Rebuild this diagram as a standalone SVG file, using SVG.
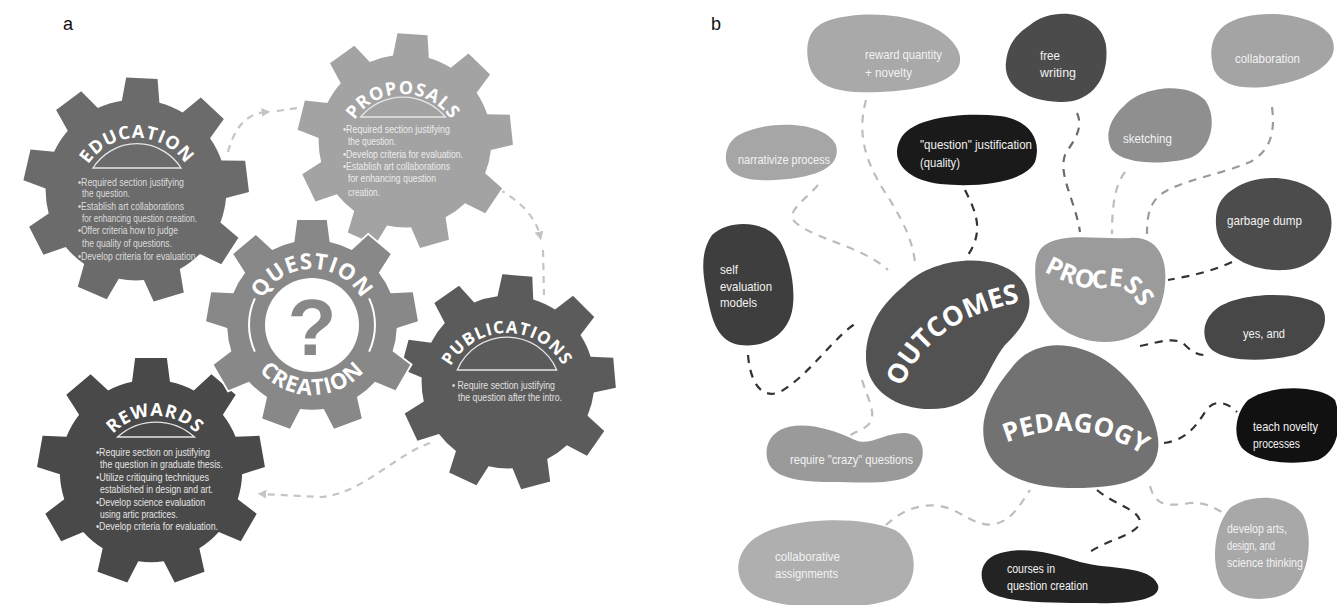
<svg xmlns="http://www.w3.org/2000/svg" width="1337" height="605" viewBox="0 0 1337 605">
<style>
.gear{stroke:#fff;stroke-width:3.5;paint-order:stroke}
.ttl{font-family:"Open Sans","DejaVu Sans",sans-serif;font-weight:700;fill:#fff;letter-spacing:1px}
.dome{fill:none;stroke:#e6e6e6;stroke-width:1.3}
.bul{font-family:"Liberation Sans",Arial,sans-serif;font-size:10px}
.lbl{font-family:"Liberation Sans",Arial,sans-serif;font-size:13px;fill:#f2f2f2}
.big{font-family:"Open Sans","DejaVu Sans",sans-serif;font-weight:700;fill:#fff}
.pl{font-family:"Liberation Sans",Arial,sans-serif;font-size:18px;fill:#111}
.ca{fill:none;stroke:#c4c4c4;stroke-width:2.2;stroke-dasharray:7 6}
.cb{fill:none;stroke-width:2.2;stroke-dasharray:8 7}
.lt{stroke:#bdbdbd}.md{stroke:#6a6a6a}.dk{stroke:#333}
</style>
<defs>
<path id="gearShape" d="M -16.63 -78.25 L -13.92 -99.03 L 13.92 -99.03 L 16.63 -78.25 A 80 80 0 0 1 37.56 -70.64 L 52.99 -84.81 L 74.31 -66.91 L 63.04 -49.25 A 80 80 0 0 1 74.17 -29.97 L 95.11 -30.90 L 99.94 -3.49 L 79.95 2.79 A 80 80 0 0 1 76.08 24.72 L 92.72 37.46 L 78.80 61.57 L 59.45 53.53 A 80 80 0 0 1 42.39 67.84 L 46.95 88.30 L 20.79 97.82 L 11.13 79.22 A 80 80 0 0 1 -11.13 79.22 L -20.79 97.82 L -46.95 88.30 L -42.39 67.84 A 80 80 0 0 1 -59.45 53.53 L -78.80 61.57 L -92.72 37.46 L -76.08 24.72 A 80 80 0 0 1 -79.95 2.79 L -99.94 -3.49 L -95.11 -30.90 L -74.17 -29.97 A 80 80 0 0 1 -63.04 -49.25 L -74.31 -66.91 L -52.99 -84.81 L -37.56 -70.64 A 80 80 0 0 1 -16.63 -78.25 Z"/>
<marker id="arr" viewBox="0 0 10 10" refX="5" refY="5" markerWidth="4" markerHeight="4" orient="auto" markerUnits="strokeWidth">
<path d="M0 0 L10 5 L0 10 Z" fill="#c4c4c4"/>
</marker>
<path id="pEdu" d="M 79 196 A 58 58 0 0 1 195 196"/>
<path id="pPro" d="M 345 152 A 58 58 0 0 1 461 152"/>
<path id="pPub" d="M 443 397 A 64 64 0 0 1 571 397"/>
<path id="pRew" d="M 97 474 A 58 58 0 0 1 213 474"/>
<path id="pQue" d="M 256 325 A 56 56 0 0 1 368 325"/>
<path id="pCre" d="M 242 325 A 70 70 0 0 0 382 325"/>
<path id="pOut" d="M 900 394 Q 925 318 1027 301"/>
<path id="pProc" d="M 1041 270 C 1065 283, 1090 293, 1108 287 C 1124 282, 1140 300, 1152 332"/>
<path id="pPed" d="M 994 448 Q 1078 408 1154 462"/>
</defs>

<rect width="1337" height="605" fill="#fff"/>
<text class="pl" x="63" y="30">a</text>
<text class="pl" x="711" y="30">b</text>

<g id="connectors-a">
<path class="ca" d="M 228 152 Q 238 114 266 112" marker-end="url(#arr)"/>
<path class="ca" d="M 277 111 L 298 108"/>
<path class="ca" d="M 487 183 Q 533 205 540 236" marker-end="url(#arr)"/>
<path class="ca" d="M 543 250 L 544 295"/>
<path class="ca" d="M 430 443 C 395 455, 360 495, 320 497 L 262 494" marker-end="url(#arr)"/>
</g>

<g id="gear-education">
<use href="#gearShape" class="gear" fill="#6b6b6b" transform="translate(136 190) rotate(3) scale(1.13)"/>
<text class="ttl" font-size="18"><textPath href="#pEdu" startOffset="50%" text-anchor="middle">EDUCATION</textPath></text>
<path class="dome" d="M 93 168 A 52 52 0 0 1 181 168 Z"/>
<g class="bul" fill="#dcdcdc">
<text x="78" y="186" textLength="106" lengthAdjust="spacingAndGlyphs">•Required section justifying</text>
<text x="82" y="197" textLength="48" lengthAdjust="spacingAndGlyphs">the question.</text>
<text x="78" y="210" textLength="106" lengthAdjust="spacingAndGlyphs">•Establish art collaborations</text>
<text x="82" y="222" textLength="115" lengthAdjust="spacingAndGlyphs">for enhancing question creation.</text>
<text x="78" y="234" textLength="100" lengthAdjust="spacingAndGlyphs">•Offer criteria how to judge</text>
<text x="82" y="247" textLength="90" lengthAdjust="spacingAndGlyphs">the quality of questions.</text>
<text x="78" y="260" textLength="120" lengthAdjust="spacingAndGlyphs">•Develop criteria for evaluation.</text>
</g>
</g>

<g id="gear-proposals">
<use href="#gearShape" class="gear" fill="#a3a3a3" transform="translate(405 141) rotate(4) scale(1.08)"/>
<text class="ttl" font-size="18"><textPath href="#pPro" startOffset="50%" text-anchor="middle">PROPOSALS</textPath></text>
<path class="dome" d="M 360.6 117 A 55 55 0 0 1 445.4 117 Z"/>
<g class="bul" fill="#ececec">
<text x="343" y="133" textLength="107" lengthAdjust="spacingAndGlyphs">•Required section justifying</text>
<text x="348" y="145" textLength="48" lengthAdjust="spacingAndGlyphs">the question.</text>
<text x="343" y="158" textLength="120" lengthAdjust="spacingAndGlyphs">•Develop criteria for evaluation.</text>
<text x="343" y="170" textLength="107" lengthAdjust="spacingAndGlyphs">•Establish art collaborations</text>
<text x="348" y="182" textLength="88" lengthAdjust="spacingAndGlyphs">for enhancing question</text>
<text x="348" y="196" textLength="32" lengthAdjust="spacingAndGlyphs">creation.</text>
</g>
</g>

<g id="gear-rewards">
<use href="#gearShape" class="gear" fill="#494949" transform="translate(151 471) scale(1.14)"/>
<text class="ttl" font-size="18"><textPath href="#pRew" startOffset="50%" text-anchor="middle">REWARDS</textPath></text>
<path class="dome" d="M 117.5 437 A 57 57 0 0 1 194.5 437 Z"/>
<g class="bul" fill="#e4e4e4">
<text x="96" y="456" textLength="114" lengthAdjust="spacingAndGlyphs">•Require section on justifying</text>
<text x="100" y="468" textLength="123" lengthAdjust="spacingAndGlyphs">the question in graduate thesis.</text>
<text x="96" y="481" textLength="113" lengthAdjust="spacingAndGlyphs">•Utilize critiquing techniques</text>
<text x="100" y="493" textLength="113" lengthAdjust="spacingAndGlyphs">established in design and art.</text>
<text x="96" y="506" textLength="109" lengthAdjust="spacingAndGlyphs">•Develop science evaluation</text>
<text x="100" y="518" textLength="78" lengthAdjust="spacingAndGlyphs">using artic practices.</text>
<text x="96" y="530" textLength="122" lengthAdjust="spacingAndGlyphs">•Develop criteria for evaluation.</text>
</g>
</g>

<g id="gear-publications">
<use href="#gearShape" class="gear" fill="#5b5b5b" transform="translate(508 382) rotate(5) scale(1.08)"/>
<text class="ttl" font-size="17"><textPath href="#pPub" startOffset="50%" text-anchor="middle">PUBLICATIONS</textPath></text>
<path class="dome" d="M 457.3 370 A 54 54 0 0 1 556.7 370 Z"/>
<g class="bul" fill="#e0e0e0">
<text x="452" y="389" textLength="103" lengthAdjust="spacingAndGlyphs">• Require section justifying</text>
<text x="458" y="401" textLength="104" lengthAdjust="spacingAndGlyphs">the question after the intro.</text>
</g>
</g>

<g id="gear-question-creation">
<use href="#gearShape" class="gear" fill="#888888" transform="translate(312 325) scale(1.06)"/>
<circle cx="312" cy="325" r="47" fill="#fff"/>
<text x="312" y="355" text-anchor="middle" font-family="Liberation Sans, Arial, sans-serif" font-weight="700" font-size="80" fill="#888888">?</text>
<path d="M 254.9 351.6 A 63 63 0 0 1 254.9 298.4 M 369.1 298.4 A 63 63 0 0 1 369.1 351.6" fill="none" stroke="#fff" stroke-width="2"/>
<text class="ttl" font-size="22"><textPath href="#pQue" startOffset="50%" text-anchor="middle">QUESTION</textPath></text>
<text class="ttl" font-size="22"><textPath href="#pCre" startOffset="50%" text-anchor="middle">CREATION</textPath></text>
</g>

<g id="connectors-b">
<path class="cb lt" d="M 866 100 C 855 140, 870 170, 890 200 C 905 225, 912 240, 915 262"/>
<path class="cb lt" d="M 818 185 C 805 200, 785 212, 795 222 C 815 240, 860 245, 888 270"/>
<path class="cb dk" d="M 965 190 C 975 210, 985 230, 968 255"/>
<path class="cb dk" d="M 748 355 C 750 380, 760 400, 780 392 C 810 375, 835 335, 858 322"/>
<path class="cb lt" d="M 862 380 C 868 400, 878 415, 868 425 C 860 432, 852 432, 848 438"/>
<path class="cb md" d="M 1077 113 C 1085 130, 1070 145, 1065 155 C 1058 175, 1075 200, 1080 232"/>
<path class="cb lt" d="M 1125 172 C 1115 185, 1112 205, 1112 234"/>
<path class="cb" stroke="#9a9a9a" d="M 1272 107 C 1275 130, 1272 150, 1250 162 C 1220 175, 1180 180, 1160 195 C 1148 205, 1147 220, 1147 234"/>
<path class="cb dk" d="M 1232 262 C 1210 272, 1190 276, 1168 280"/>
<path class="cb dk" d="M 1140 346 C 1160 342, 1175 336, 1185 345 C 1193 353, 1200 356, 1210 355"/>
<path class="cb dk" d="M 1164 443 C 1185 440, 1195 428, 1205 412 C 1212 400, 1225 400, 1237 412"/>
<path class="cb dk" d="M 1097 490 C 1115 505, 1140 510, 1140 522 C 1138 535, 1105 540, 1087 554"/>
<path class="cb lt" d="M 1150 486 C 1155 505, 1165 507, 1190 503 C 1205 502, 1212 507, 1222 512"/>
<path class="cb lt" d="M 886 525 C 900 512, 918 503, 940 506 C 962 510, 975 528, 995 524 C 1012 520, 1020 505, 1030 490"/>
</g>

<g id="reward-quantity">
<path fill="#a9a9a9" d="M 830 20 C 870 8, 940 15, 958 50 C 970 78, 930 90, 880 92 C 840 94, 812 88, 808 60 C 805 38, 812 26, 830 20 Z"/>
<text class="lbl" x="865" y="59" textLength="77" lengthAdjust="spacingAndGlyphs">reward quantity</text>
<text class="lbl" x="865" y="77" textLength="47" lengthAdjust="spacingAndGlyphs">+ novelty</text>
</g>
<g id="narrativize-process">
<path fill="#a6a6a6" d="M 745 132 C 775 120, 825 122, 836 145 C 842 168, 815 178, 775 180 C 745 182, 724 175, 726 155 C 727 143, 735 136, 745 132 Z"/>
<text class="lbl" x="738" y="164" textLength="92" lengthAdjust="spacingAndGlyphs">narrativize process</text>
</g>
<g id="question-justification">
<path fill="#1a1a1a" d="M 900 140 C 910 118, 960 112, 1000 116 C 1030 120, 1042 140, 1035 162 C 1025 182, 980 188, 940 184 C 905 180, 890 160, 900 140 Z"/>
<text class="lbl" x="920" y="149" textLength="112" lengthAdjust="spacingAndGlyphs">"question" justification</text>
<text class="lbl" x="920" y="167" textLength="40" lengthAdjust="spacingAndGlyphs">(quality)</text>
</g>
<g id="free-writing">
<path fill="#4b4b4b" d="M 1030 25 C 1055 5, 1100 12, 1106 45 C 1110 80, 1090 103, 1060 102 C 1025 101, 1003 85, 1006 62 C 1008 45, 1015 35, 1030 25 Z"/>
<text class="lbl" x="1040" y="60" textLength="20" lengthAdjust="spacingAndGlyphs">free</text>
<text class="lbl" x="1040" y="77" textLength="36" lengthAdjust="spacingAndGlyphs">writing</text>
</g>
<g id="collaboration">
<path fill="#a4a4a4" d="M 1225 25 C 1250 8, 1310 10, 1330 35 C 1342 55, 1325 72, 1290 82 C 1260 90, 1225 92, 1214 70 C 1208 50, 1212 35, 1225 25 Z"/>
<text class="lbl" x="1235" y="63" textLength="65" lengthAdjust="spacingAndGlyphs">collaboration</text>
</g>
<g id="sketching">
<path fill="#8f8f8f" d="M 1125 105 C 1140 88, 1185 80, 1205 100 C 1218 118, 1212 150, 1190 158 C 1165 165, 1125 165, 1112 150 C 1104 135, 1110 118, 1125 105 Z"/>
<text class="lbl" x="1123" y="143" textLength="49" lengthAdjust="spacingAndGlyphs">sketching</text>
</g>
<g id="garbage-dump">
<path fill="#4c4c4c" d="M 1232 190 C 1260 170, 1310 175, 1328 205 C 1340 235, 1320 268, 1285 270 C 1250 272, 1218 255, 1216 225 C 1215 208, 1220 198, 1232 190 Z"/>
<text class="lbl" x="1227" y="225" textLength="75" lengthAdjust="spacingAndGlyphs">garbage dump</text>
</g>
<g id="self-evaluation">
<path fill="#3e3e3e" d="M 712 235 C 730 218, 770 220, 782 245 C 790 262, 795 285, 793 305 C 790 335, 765 348, 740 345 C 718 342, 712 320, 708 300 C 704 280, 698 255, 712 235 Z"/>
<text class="lbl" x="720" y="274" textLength="18" lengthAdjust="spacingAndGlyphs">self</text>
<text class="lbl" x="720" y="291" textLength="52" lengthAdjust="spacingAndGlyphs">evaluation</text>
<text class="lbl" x="720" y="307" textLength="37" lengthAdjust="spacingAndGlyphs">models</text>
</g>
<g id="outcomes">
<path fill="#525252" d="M 905 285 C 935 255, 1005 250, 1025 285 C 1038 310, 1020 330, 1005 345 C 985 370, 985 400, 945 408 C 905 414, 868 395, 866 360 C 865 330, 880 305, 905 285 Z"/>
<text class="big" font-size="27"><textPath href="#pOut" startOffset="50%" text-anchor="middle">OUTCOMES</textPath></text>
</g>
<g id="process">
<path fill="#9b9b9b" d="M 1045 245 C 1065 232, 1100 240, 1130 238 C 1155 236, 1168 255, 1165 285 C 1162 320, 1140 342, 1105 342 C 1070 342, 1040 320, 1036 285 C 1034 265, 1035 252, 1045 245 Z"/>
<text class="big" font-size="25"><textPath href="#pProc" startOffset="3">PROCESS</textPath></text>
</g>
<g id="pedagogy">
<path fill="#727272" d="M 1010 370 C 1030 340, 1070 338, 1105 360 C 1135 380, 1162 420, 1158 450 C 1154 480, 1120 488, 1075 488 C 1030 488, 990 475, 984 440 C 980 415, 993 390, 1010 370 Z"/>
<text class="big" font-size="26"><textPath href="#pPed" startOffset="50%" text-anchor="middle">PEDAGOGY</textPath></text>
</g>
<g id="yes-and">
<path fill="#474747" d="M 1215 310 C 1235 292, 1300 290, 1320 305 C 1332 318, 1322 345, 1295 355 C 1265 362, 1228 362, 1212 350 C 1200 338, 1203 320, 1215 310 Z"/>
<text class="lbl" x="1243" y="338" textLength="42" lengthAdjust="spacingAndGlyphs">yes, and</text>
</g>
<g id="teach-novelty">
<path fill="#111" d="M 1248 400 C 1270 384, 1320 385, 1335 400 C 1342 420, 1340 450, 1318 460 C 1290 466, 1255 462, 1242 448 C 1232 435, 1236 412, 1248 400 Z"/>
<text class="lbl" x="1253" y="431" textLength="65" lengthAdjust="spacingAndGlyphs">teach novelty</text>
<text class="lbl" x="1253" y="448" textLength="47" lengthAdjust="spacingAndGlyphs">processes</text>
</g>
<g id="require-crazy">
<path fill="#9a9a9a" d="M 780 430 C 800 420, 830 428, 855 440 C 870 447, 885 432, 905 433 C 925 434, 928 458, 915 472 C 900 486, 860 482, 830 482 C 800 482, 770 478, 767 458 C 765 445, 770 436, 780 430 Z"/>
<text class="lbl" x="790" y="464" textLength="123" lengthAdjust="spacingAndGlyphs">require "crazy" questions</text>
</g>
<g id="collaborative-assignments">
<path fill="#afafaf" d="M 760 535 C 790 518, 860 515, 895 530 C 920 545, 920 585, 895 598 C 860 612, 790 610, 760 598 C 730 585, 732 550, 760 535 Z"/>
<text class="lbl" x="775" y="561" textLength="65" lengthAdjust="spacingAndGlyphs">collaborative</text>
<text class="lbl" x="775" y="578" textLength="63" lengthAdjust="spacingAndGlyphs">assignments</text>
</g>
<g id="courses">
<path fill="#232323" d="M 995 555 C 1020 545, 1050 552, 1080 562 C 1110 570, 1150 565, 1158 585 C 1162 600, 1130 604, 1090 603 C 1050 603, 1000 603, 987 590 C 978 578, 980 562, 995 555 Z"/>
<text class="lbl" x="1007" y="573" textLength="48" lengthAdjust="spacingAndGlyphs">courses in</text>
<text class="lbl" x="1007" y="590" textLength="81" lengthAdjust="spacingAndGlyphs">question creation</text>
</g>
<g id="develop-arts">
<path fill="#a8a8a8" d="M 1230 508 C 1252 492, 1290 495, 1303 515 C 1313 535, 1310 570, 1294 588 C 1278 603, 1240 602, 1225 588 C 1210 572, 1212 528, 1230 508 Z"/>
<text class="lbl" x="1227" y="533" textLength="60" lengthAdjust="spacingAndGlyphs">develop arts,</text>
<text class="lbl" x="1227" y="550" textLength="48" lengthAdjust="spacingAndGlyphs">design, and</text>
<text class="lbl" x="1227" y="567" textLength="76" lengthAdjust="spacingAndGlyphs">science thinking</text>
</g>
</svg>
